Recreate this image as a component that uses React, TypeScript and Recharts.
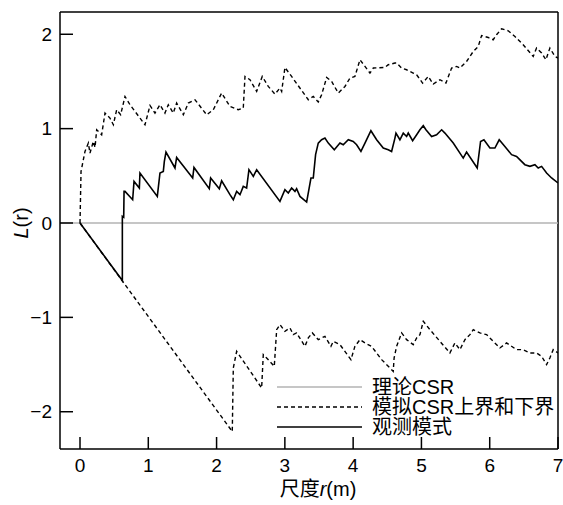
import React from 'react';
import { LineChart, Line, XAxis, YAxis, ReferenceLine, Legend } from 'recharts';

const FONT = '"Liberation Sans", Arial, "Noto Sans CJK SC", sans-serif';

// Tick labels
const xTicks = [0, 1, 2, 3, 4, 5, 6, 7];
const yTicks = [-2, -1, 0, 1, 2];

// Legend labels
const legendLabels = ['理论CSR', '模拟CSR上界和下界', '观测模式'];

// Upper envelope (simulated CSR upper bound)
const upperR = [0, 0.015, 0.073, 0.122, 0.146, 0.195, 0.22, 0.244, 0.317, 0.366, 0.439, 0.488, 0.537, 0.595, 0.659, 0.732, 0.952, 1.025, 1.098, 1.171, 1.244, 1.293, 1.366, 1.415, 1.513, 1.586, 1.684, 1.855, 1.952, 2.074, 2.196, 2.318, 2.391, 2.416, 2.489, 2.587, 2.669, 2.757, 2.855, 2.928, 2.953, 3.001, 3.099, 3.343, 3.416, 3.489, 3.538, 3.612, 3.685, 3.782, 3.88, 3.953, 4.026, 4.1, 4.246, 4.295, 4.466, 4.514, 4.612, 4.637, 4.71, 4.783, 4.88, 4.93, 5.017, 5.1, 5.173, 5.271, 5.359, 5.442, 5.515, 5.564, 5.661, 5.759, 5.832, 5.881, 5.978, 6.051, 6.1, 6.174, 6.271, 6.369, 6.49, 6.637, 6.686, 6.76, 6.823, 6.881, 6.955, 7.0];
const upperL = [0, 0.547, 0.758, 0.847, 0.74, 0.864, 0.8, 0.988, 0.935, 1.165, 1.112, 1.041, 1.2, 1.147, 1.341, 1.253, 1.041, 1.246, 1.165, 1.253, 1.165, 1.253, 1.165, 1.271, 1.147, 1.271, 1.306, 1.147, 1.2, 1.377, 1.235, 1.2, 1.218, 1.553, 1.518, 1.394, 1.553, 1.447, 1.366, 1.43, 1.394, 1.648, 1.553, 1.306, 1.341, 1.282, 1.359, 1.542, 1.5, 1.377, 1.447, 1.536, 1.553, 1.73, 1.589, 1.642, 1.648, 1.677, 1.695, 1.695, 1.642, 1.624, 1.589, 1.571, 1.483, 1.553, 1.472, 1.518, 1.483, 1.642, 1.659, 1.642, 1.712, 1.818, 1.871, 1.987, 1.966, 1.942, 1.995, 2.058, 2.037, 1.977, 1.889, 1.765, 1.854, 1.801, 1.73, 1.854, 1.765, 1.748];

// Lower envelope (simulated CSR lower bound)
const lowerR = [0, 2.23, 2.245, 2.294, 2.66, 2.684, 2.733, 2.845, 2.88, 2.928, 3.001, 3.075, 3.123, 3.172, 3.294, 3.343, 3.402, 3.489, 3.587, 3.675, 3.709, 3.807, 3.968, 4.026, 4.1, 4.173, 4.27, 4.417, 4.539, 4.587, 4.6, 4.637, 4.71, 4.783, 4.88, 4.93, 4.978, 5.027, 5.124, 5.271, 5.417, 5.49, 5.564, 5.637, 5.71, 5.759, 5.856, 5.954, 6.051, 6.149, 6.247, 6.393, 6.49, 6.589, 6.686, 6.76, 6.833, 6.881, 6.93, 7.0];
const lowerL = [0, -2.21, -1.536, -1.36, -1.748, -1.395, -1.43, -1.519, -1.13, -1.077, -1.148, -1.112, -1.183, -1.165, -1.307, -1.218, -1.165, -1.236, -1.201, -1.307, -1.254, -1.289, -1.448, -1.307, -1.236, -1.271, -1.307, -1.448, -1.536, -1.572, -1.43, -1.307, -1.165, -1.236, -1.289, -1.218, -1.183, -1.042, -1.13, -1.254, -1.377, -1.271, -1.342, -1.236, -1.183, -1.13, -1.165, -1.183, -1.254, -1.324, -1.271, -1.342, -1.342, -1.377, -1.377, -1.413, -1.501, -1.43, -1.342, -1.377];

// Observed pattern
const obsR = [0, 0.62, 0.62, 0.64, 0.645, 0.659, 0.771, 0.791, 0.869, 0.878, 1.132, 1.171, 1.22, 1.235, 1.259, 1.391, 1.415, 1.65, 1.669, 1.893, 1.913, 2.04, 2.074, 2.196, 2.245, 2.294, 2.343, 2.391, 2.44, 2.474, 2.538, 2.587, 2.928, 3.001, 3.05, 3.099, 3.148, 3.172, 3.221, 3.319, 3.382, 3.416, 3.45, 3.489, 3.538, 3.587, 3.636, 3.724, 3.807, 3.855, 3.929, 4.001, 4.051, 4.114, 4.173, 4.26, 4.344, 4.441, 4.514, 4.563, 4.612, 4.627, 4.685, 4.734, 4.783, 4.807, 4.871, 4.93, 4.978, 5.027, 5.066, 5.149, 5.222, 5.296, 5.344, 5.466, 5.612, 5.661, 5.817, 5.866, 5.915, 6.003, 6.076, 6.139, 6.222, 6.32, 6.393, 6.515, 6.589, 6.662, 6.71, 6.76, 6.833, 6.906, 7.0];
const obsL = [0, -0.61, 0.07, 0.06, 0.335, 0.335, 0.247, 0.441, 0.371, 0.53, 0.282, 0.53, 0.547, 0.653, 0.752, 0.583, 0.695, 0.477, 0.589, 0.363, 0.477, 0.363, 0.448, 0.3, 0.247, 0.335, 0.3, 0.388, 0.371, 0.565, 0.494, 0.565, 0.229, 0.353, 0.318, 0.371, 0.335, 0.363, 0.282, 0.222, 0.477, 0.477, 0.724, 0.847, 0.882, 0.9, 0.847, 0.776, 0.847, 0.829, 0.882, 0.864, 0.829, 0.758, 0.847, 0.978, 0.882, 0.794, 0.776, 0.758, 0.9, 0.953, 0.882, 0.953, 0.917, 0.953, 0.872, 0.935, 0.988, 1.031, 0.988, 0.917, 0.935, 0.988, 0.953, 0.847, 0.688, 0.752, 0.583, 0.864, 0.882, 0.794, 0.794, 0.882, 0.811, 0.724, 0.706, 0.618, 0.6, 0.618, 0.583, 0.6, 0.53, 0.477, 0.424];

const toPts = (r: number[], l: number[]) => r.map((x, i) => ({ r: x, L: l[i] }));
const upperData = toPts(upperR, upperL);
const lowerData = toPts(lowerR, lowerL);
const obsData = toPts(obsR, obsL);

const X_MIN = -0.293;
const X_MAX = 7;
const Y_MIN = -2.395;
const Y_MAX = 2.236;

const fmtY = (v: number) => (v < 0 ? '\u2212' + Math.abs(v) : String(v));

const LegendContent = () => {
  const rows = [
    { label: legendLabels[0], stroke: '#b3b3b3', dash: undefined as string | undefined, w: 1.5 },
    { label: legendLabels[1], stroke: '#000', dash: '4 3', w: 1.4 },
    { label: legendLabels[2], stroke: '#000', dash: undefined, w: 1.6 },
  ];
  return (
    <div style={{ fontFamily: FONT, fontSize: 20, color: '#000' }}>
      {rows.map((row, i) => (
        <div key={i} style={{ display: 'flex', alignItems: 'center', height: 20, lineHeight: '20px' }}>
          <svg width={85} height={6} style={{ display: 'block' }}>
            <line x1={0} y1={3} x2={85} y2={3} stroke={row.stroke} strokeWidth={row.w} strokeDasharray={row.dash} />
          </svg>
          <span style={{ marginLeft: 10, whiteSpace: 'nowrap' }}>{row.label}</span>
        </div>
      ))}
    </div>
  );
};

export default function App() {
  return (
    <div style={{ position: 'absolute', left: 0, top: 0, background: '#fff' }}>
      <LineChart width={563} height={505} margin={{ top: 12, right: 5, bottom: 0, left: 0 }}>
        <XAxis
          dataKey="r"
          type="number"
          domain={[X_MIN, X_MAX]}
          ticks={xTicks}
          allowDataOverflow
          height={56}
          axisLine={{ stroke: '#000', strokeWidth: 1.5 }}
          tickLine={{ stroke: '#000', strokeWidth: 1.5 }}
          tickSize={-12}
          tickMargin={22}
          tick={{ fill: '#000', fontSize: 19, fontFamily: FONT }}
          label={{
            content: () => (
              <text x={318} y={496} textAnchor="middle" fill="#000" fontSize={20} fontFamily={FONT}>
                尺度<tspan fontStyle="italic">r</tspan>(m)
              </text>
            ),
          }}
        />
        <YAxis
          type="number"
          domain={[Y_MIN, Y_MAX]}
          ticks={yTicks}
          allowDataOverflow
          width={60}
          axisLine={{ stroke: '#000', strokeWidth: 1.5 }}
          tickLine={{ stroke: '#000', strokeWidth: 1.5 }}
          tickSize={-13}
          tickMargin={21}
          tickFormatter={fmtY}
          tick={{ fill: '#000', fontSize: 19, fontFamily: FONT }}
          label={{
            content: () => (
              <text
                x={21}
                y={223}
                transform="rotate(-90 21 223)"
                textAnchor="middle"
                dominantBaseline="central"
                fill="#000"
                fontSize={20}
                fontFamily={FONT}
              >
                <tspan fontStyle="italic">L</tspan>(r)
              </text>
            ),
          }}
        />
        <ReferenceLine y={Y_MAX} stroke="#000" strokeWidth={1.5} />
        <ReferenceLine x={X_MAX} stroke="#000" strokeWidth={1.5} />
        <ReferenceLine y={0} stroke="#b3b3b3" strokeWidth={1.5} />
        <Line data={upperData} dataKey="L" type="linear" dot={false} stroke="#000" strokeWidth={1.4} strokeDasharray="4 3" isAnimationActive={false} />
        <Line data={lowerData} dataKey="L" type="linear" dot={false} stroke="#000" strokeWidth={1.4} strokeDasharray="4 3" isAnimationActive={false} />
        <Line data={obsData} dataKey="L" type="linear" dot={false} stroke="#000" strokeWidth={1.6} isAnimationActive={false} />
        <Legend
          layout="vertical"
          align="center"
          verticalAlign="middle"
          content={() => <LegendContent />}
          wrapperStyle={{ position: 'absolute', left: 277, top: 377, width: 290, height: 62 }}
        />
      </LineChart>
    </div>
  );
}
